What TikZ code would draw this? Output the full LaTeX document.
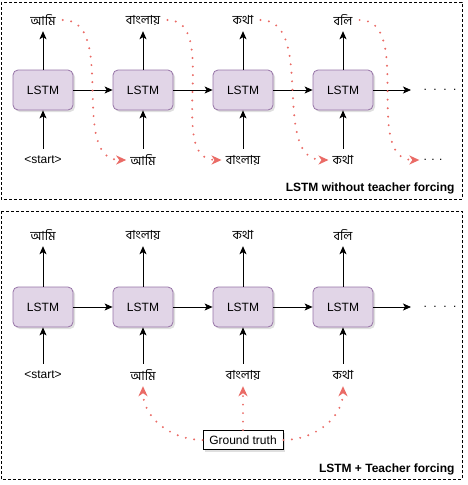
\documentclass[tikz,border=0pt]{standalone}
\usepackage{fontspec}
\setmainfont{Liberation Sans}
\newfontfamily\bangla[Script=Bengali]{Hind Siliguri}
\usetikzlibrary{arrows.meta,shadows}
\definecolor{lstmFill}{HTML}{E1D5E7}
\definecolor{lstmLine}{HTML}{9673A6}
\definecolor{gtRed}{HTML}{EA6B66}

\begin{document}
\begin{tikzpicture}
[x=1pt,y=-1pt,
  lstmDecorate/.style={shape=rectangle,rounded corners=5pt,draw=lstmLine,fill=lstmFill,
    line width=0.8pt,minimum width=60pt,minimum height=40pt,inner sep=0pt,
    font=\fontsize{12}{14}\selectfont,
    drop shadow={shadow xshift=2pt,shadow yshift=-2pt,fill=black!25}},
  wordDecorate/.style={inner sep=0pt,minimum height=22pt,font=\fontsize{12.5}{14}\bangla},
  textDecorate/.style={inner sep=0pt,minimum height=22pt,font=\fontsize{12}{14}\selectfont},
  gtDecorate/.style={shape=rectangle,draw,fill=white,line width=0.8pt,minimum width=80pt,
    minimum height=19pt,inner sep=0pt,font=\fontsize{12}{14}\selectfont,
    drop shadow={shadow xshift=2pt,shadow yshift=-2pt,fill=black!25}},
  lineDecorate/.style={-{Stealth[length=8pt,width=7pt,inset=2pt]},line width=0.8pt},
  redDecorate/.style={-{Stealth[length=10pt,width=9pt,inset=3pt]},gtRed,line width=2.2pt,
    line cap=round,dash pattern=on 0pt off 8.5pt},
  frameDecorate/.style={line width=0.8pt,dash pattern=on 3pt off 2pt}]
\useasboundingbox (0,0) rectangle (467,485);
%% frames
\draw[frameDecorate] (1,2) rectangle (462,199);
\draw[frameDecorate] (1,211) rectangle (462,479);
%% lstm cells
\foreach \nodename/\x/\y in {ta/43/90, tb/143/90, tc/243/90, td/343/90,
  ba/43/307, bb/143/307, bc/243/307, bd/343/307}
{
  \node (\nodename) at (\x,\y) [lstmDecorate] {LSTM};
}
%% words
\foreach \nodename/\x/\y/\word in {
  touta/43/20/আমি, toutb/143/20/বাংলায়, toutc/243/20/কথা, toutd/343/20/বলি,
  tinb/143/160/আমি, tinc/243/160/বাংলায়, tind/343/160/কথা,
  bouta/43/235/আমি, boutb/143/235/বাংলায়, boutc/243/235/কথা, boutd/343/235/বলি,
  binb/143/375/আমি, binc/243/375/বাংলায়, bind/343/375/কথা}
{
  \node (\nodename) at (\x,\y) [wordDecorate] {\word};
}
\node (tina) at (43,160) [textDecorate] {<start>};
\node (bina) at (43,375) [textDecorate] {<start>};
\node (tdots) at (433,160) [textDecorate] {. . .};
\node (tmore) at (440,90) [textDecorate] {.\hspace{6.5pt}.\hspace{6.5pt}.\hspace{6.5pt}.};
\node (bmore) at (440,307) [textDecorate] {.\hspace{6.5pt}.\hspace{6.5pt}.\hspace{6.5pt}.};
\coordinate (tend) at (411,90);
\coordinate (bend) at (411,307);
\node (gt) at (243,440) [gtDecorate] {Ground truth};
\node[anchor=east,font=\fontsize{12}{14}\selectfont\bfseries] at (458,188) {LSTM without teacher forcing};
\node[anchor=east,font=\fontsize{12}{14}\selectfont\bfseries] at (458,469) {LSTM + Teacher forcing};
%% edges
\path
\foreach \startnode/\endnode in {
  ta/tb, tb/tc, tc/td, td/tend, ta/touta, tb/toutb, tc/toutc, td/toutd,
  tina/ta, tinb/tb, tinc/tc, tind/td,
  ba/bb, bb/bc, bc/bd, bd/bend, ba/bouta, bb/boutb, bc/boutc, bd/boutd,
  bina/ba, binb/bb, binc/bc, bind/bd}
{
  (\startnode) edge[lineDecorate] (\endnode)
};
%% feeding back
\path
\foreach \startnode/\endnode in {touta/tinb, toutb/tinc, toutc/tind, toutd/tdots}
{
  (\startnode) edge[redDecorate,out=0,in=180,shorten <=7pt,shorten >=4pt] (\endnode)
};
\path (gt) edge[redDecorate,out=180,in=-90] (binb)
      (gt) edge[redDecorate] (binc)
      (gt) edge[redDecorate,out=0,in=-90] (bind);
\end{tikzpicture}
\end{document}
